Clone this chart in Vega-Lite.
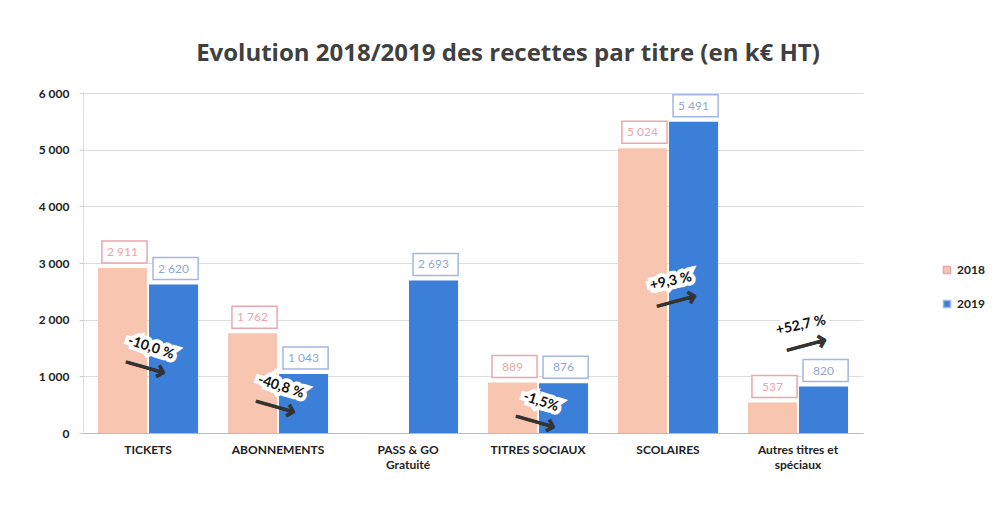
{
  "$schema": "https://vega.github.io/schema/vega-lite/v6.json",
  "width": 780,
  "height": 340,
  "padding": {"left": 38, "top": 42, "right": 5, "bottom": 5},
  "background": "white",
  "title": {"text": "Evolution 2018/2019 des recettes par titre (en k€ HT)", "fontSize": 24, "font": "Open Sans", "fontWeight": "bold", "color": "#404040", "anchor": "middle", "offset": 21, "dx": 35},
  "config": {
    "locale": {"number": {"decimal": ",", "thousands": " ", "grouping": [3], "currency": ["", " €"]}},
    "view": {"stroke": null},
    "font": "Lato"
  },
  "datasets": {
    "bars": [
      {"cat": "TICKETS", "year": "2018", "value": 2911},
      {"cat": "TICKETS", "year": "2019", "value": 2620},
      {"cat": "ABONNEMENTS", "year": "2018", "value": 1762},
      {"cat": "ABONNEMENTS", "year": "2019", "value": 1043},
      {"cat": "PASS & GO\nGratuité", "year": "2019", "value": 2693},
      {"cat": "TITRES SOCIAUX", "year": "2018", "value": 889},
      {"cat": "TITRES SOCIAUX", "year": "2019", "value": 876},
      {"cat": "SCOLAIRES", "year": "2018", "value": 5024},
      {"cat": "SCOLAIRES", "year": "2019", "value": 5491},
      {"cat": "Autres titres et\nspéciaux", "year": "2018", "value": 537},
      {"cat": "Autres titres et\nspéciaux", "year": "2019", "value": 820}
    ],
    "notes": [
      {"cat": "TICKETS", "label": "-10,0 %", "change": -10.0, "at": 1520},
      {"cat": "ABONNEMENTS", "label": "-40,8 %", "change": -40.8, "at": 830},
      {"cat": "TITRES SOCIAUX", "label": "-1,5%", "change": -1.5, "at": 565},
      {"cat": "SCOLAIRES", "label": "+9,3 %", "change": 9.3, "at": 2665},
      {"cat": "Autres titres et\nspéciaux", "label": "+52,7 %", "change": 52.7, "at": 1888}
    ]
  },
  "encoding": {
    "x": {
      "field": "cat", "type": "nominal", "sort": null,
      "scale": {"paddingInner": 0.23, "paddingOuter": 0.115},
      "axis": {"title": null, "labelAngle": 0, "labelFontSize": 12, "labelFontWeight": "bold", "labelColor": "#222", "labelExpr": "split(datum.label, '\\n')", "labelPadding": 11, "ticks": false, "domainColor": "#bbbbbb", "labelLineHeight": 15}
    }
  },
  "layer": [
    {
      "data": {"name": "bars"},
      "mark": {"type": "bar"},
      "encoding": {
        "xOffset": {"field": "year", "type": "nominal", "scale": {"paddingInner": 0.04}},
        "y": {"field": "value", "type": "quantitative", "scale": {"domain": [0, 6000]},
          "axis": {"title": null, "values": [0, 1000, 2000, 3000, 4000, 5000, 6000], "format": ",d", "labelFontSize": 12, "labelFontWeight": "bold", "labelColor": "#222", "gridColor": "#dddddd", "domainColor": "#dddddd", "tickColor": "#cccccc", "tickSize": 4, "labelPadding": 10}},
        "color": {"field": "year", "type": "nominal", "scale": {"domain": ["2018", "2019"], "range": ["#F8C5B0", "#3B7FD9"]},
          "legend": {"title": null, "orient": "none", "legendX": 858, "legendY": 171, "labelFontSize": 12, "labelFontWeight": "bold", "labelColor": "#222", "symbolType": "square", "symbolSize": 50, "rowPadding": 20}}
      }
    },
    {
      "data": {"name": "bars"},
      "mark": {"type": "bar", "fill": "white", "strokeWidth": 1.5, "width": {"band": 0.92}, "yOffset": -5, "y2Offset": -27},
      "encoding": {
        "xOffset": {"field": "year", "type": "nominal"},
        "y": {"field": "value", "type": "quantitative"},
        "y2": {"field": "value"},
        "stroke": {"field": "year", "type": "nominal", "scale": {"domain": ["2018", "2019"], "range": ["#EBA7AE", "#A3B7E2"]}, "legend": null}
      }
    },
    {
      "data": {"name": "bars"},
      "mark": {"type": "text", "fontSize": 12, "baseline": "middle", "yOffset": -16},
      "encoding": {
        "xOffset": {"field": "year", "type": "nominal"},
        "y": {"field": "value", "type": "quantitative"},
        "text": {"field": "value", "type": "quantitative", "format": ",d"},
        "fill": {"field": "year", "type": "nominal", "scale": {"domain": ["2018", "2019"], "range": ["#F0A4A8", "#8FA6DA"]}, "legend": null}
      }
    },
    {
      "data": {"name": "notes"},
      "mark": {"type": "text", "fontSize": 14, "fontWeight": "bold", "font": "Lato", "baseline": "middle", "dx": 3, "stroke": "white", "strokeWidth": 8, "strokeJoin": "miter", "fill": "white"},
      "encoding": {
        "y": {"field": "at", "type": "quantitative"},
        "text": {"field": "label"},
        "angle": {"condition": {"test": "datum.change < 0", "value": 18}, "value": 348}
      }
    },
    {
      "data": {"name": "notes"},
      "mark": {"type": "text", "fontSize": 14, "fontWeight": "bold", "font": "Lato", "baseline": "middle", "dx": 3, "fill": "#111"},
      "encoding": {
        "y": {"field": "at", "type": "quantitative"},
        "text": {"field": "label"},
        "angle": {"condition": {"test": "datum.change < 0", "value": 18}, "value": 348}
      }
    },
    {
      "data": {"name": "notes"},
      "mark": {"type": "text", "fontSize": 30, "font": "DejaVu Sans", "baseline": "middle", "dx": 3, "dy": 21, "fill": "#333", "stroke": "#333", "strokeWidth": 1},
      "encoding": {
        "y": {"field": "at", "type": "quantitative"},
        "text": {"value": "⟶"},
        "angle": {"condition": {"test": "datum.change < 0", "value": 16}, "value": 345}
      }
    }
  ]
}
